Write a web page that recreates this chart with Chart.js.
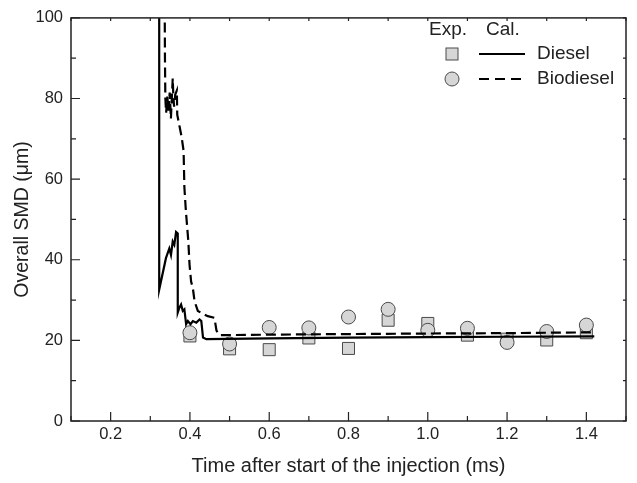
<!DOCTYPE html>
<html>
<head>
<meta charset="utf-8">
<script src="https://cdn.jsdelivr.net/npm/chart.js@4.4.0/dist/chart.umd.min.js"></script>
<style>
  html, body { margin: 0; padding: 0; background: #fff; }
  #wrap { width: 637px; height: 483px; }
</style>
</head>
<body>
<div id="wrap"><canvas id="smdChart" width="637" height="483"></canvas></div>
<script>
/* ── Data ── */
const EXP_TIME      = [0.4, 0.5, 0.6, 0.7, 0.8, 0.9, 1.0, 1.1, 1.2, 1.3, 1.4];
const EXP_DIESEL    = [21.1, 17.9, 17.7, 20.6, 18.0, 25.0, 24.2, 21.3, 20.3, 20.1, 21.9];
const EXP_BIODIESEL = [21.9, 19.1, 23.2, 23.1, 25.8, 27.7, 22.5, 23.0, 19.5, 22.2, 23.8];

const CAL_DIESEL_T = [0.3225, 0.3225, 0.3395, 0.348, 0.3522, 0.3566, 0.3606, 0.365, 0.3693, 0.3693,
                      0.3734, 0.3777, 0.382, 0.386, 0.3904, 0.3948, 0.4014, 0.4075, 0.416, 0.4243,
                      0.4287, 0.433, 0.4414, 0.6, 0.8, 1.0, 1.2, 1.42];
const CAL_DIESEL_V = [110, 32.6, 40.4, 42.8, 41.2, 44.5, 43.7, 46.9, 46.5, 26.9,
                      28.1, 28.9, 27.3, 27.7, 24.0, 24.8, 24.0, 24.8, 24.4, 25.2,
                      24.8, 20.7, 20.3, 20.5, 20.7, 20.8, 20.9, 21.0];

const CAL_BIO_T = [0.336, 0.337, 0.338, 0.340, 0.343, 0.346, 0.349, 0.352, 0.3566, 0.358,
                   0.360, 0.363, 0.367, 0.368, 0.371, 0.374, 0.379, 0.384, 0.386, 0.390,
                   0.393, 0.396, 0.399, 0.403, 0.4075, 0.4116, 0.420, 0.4287, 0.445, 0.4618,
                   0.467, 0.4745, 0.7, 1.0, 1.2, 1.42];
const CAL_BIO_V = [110, 90, 80, 76.5, 80.5, 77, 81.5, 75, 85, 81,
                   78, 81, 82, 76, 74.5, 73, 70.5, 67, 58, 51.8,
                   48.2, 44.5, 38.8, 34.6, 32.9, 29.7, 27.3, 26.8, 26.0, 25.6,
                   22.4, 21.3, 21.5, 21.7, 21.8, 22.0];

const X_TICKS = [0.2, 0.4, 0.6, 0.8, 1.0, 1.2, 1.4];
const X_MINOR = [0.1, 0.3, 0.5, 0.7, 0.9, 1.1, 1.3, 1.5];
const Y_TICKS = [0, 20, 40, 60, 80, 100];
const Y_MINOR = [10, 30, 50, 70, 90];

const FONT = "'Liberation Sans', Arial, sans-serif";
const INK = '#222';

function pts(xs, ys) {
  return xs.map((x, i) => ({ x: x, y: ys[i] }));
}

/* ── Frame + inward ticks ── */
const framePlugin = {
  id: 'frame',
  afterDatasetsDraw(chart) {
    const { ctx, chartArea: a, scales: { x, y } } = chart;
    ctx.save();
    ctx.strokeStyle = INK;
    ctx.lineWidth = 1.5;
    ctx.strokeRect(a.left, a.top, a.right - a.left, a.bottom - a.top);

    ctx.lineWidth = 1.2;
    ctx.beginPath();
    X_TICKS.forEach(v => {
      const px = x.getPixelForValue(v);
      ctx.moveTo(px, a.bottom); ctx.lineTo(px, a.bottom - 9);
      ctx.moveTo(px, a.top); ctx.lineTo(px, a.top + 3);
    });
    X_MINOR.forEach(v => {
      const px = x.getPixelForValue(v);
      ctx.moveTo(px, a.bottom); ctx.lineTo(px, a.bottom - 5);
      ctx.moveTo(px, a.top); ctx.lineTo(px, a.top + 3);
    });
    Y_TICKS.forEach(v => {
      const py = y.getPixelForValue(v);
      ctx.moveTo(a.left, py); ctx.lineTo(a.left + 9, py);
      ctx.moveTo(a.right, py); ctx.lineTo(a.right - 3, py);
    });
    Y_MINOR.forEach(v => {
      const py = y.getPixelForValue(v);
      ctx.moveTo(a.left, py); ctx.lineTo(a.left + 5, py);
      ctx.moveTo(a.right, py); ctx.lineTo(a.right - 3, py);
    });
    ctx.stroke();
    ctx.restore();
  }
};

/* ── Two-column legend (Exp. / Cal.) ── */
const legendPlugin = {
  id: 'expCalLegend',
  afterDraw(chart) {
    const ctx = chart.ctx;
    ctx.save();
    ctx.font = '19px ' + FONT;
    ctx.fillStyle = INK;
    ctx.textBaseline = 'middle';
    ctx.textAlign = 'left';
    ctx.fillText('Exp.', 429, 30);
    ctx.fillText('Cal.', 486, 30);
    ctx.fillText('Diesel', 537, 54);
    ctx.fillText('Biodiesel', 537, 79);

    ctx.fillStyle = '#d6d6d6';
    ctx.strokeStyle = '#4a4a4a';
    ctx.lineWidth = 1;
    ctx.fillRect(446, 48, 12, 12);
    ctx.strokeRect(446, 48, 12, 12);
    ctx.beginPath();
    ctx.arc(452, 79, 7, 0, Math.PI * 2);
    ctx.fill();
    ctx.stroke();

    ctx.strokeStyle = '#000';
    ctx.lineWidth = 2.2;
    ctx.beginPath();
    ctx.moveTo(479, 54); ctx.lineTo(525, 54);
    ctx.stroke();
    ctx.setLineDash([10, 6]);
    ctx.beginPath();
    ctx.moveTo(479, 79); ctx.lineTo(525, 79);
    ctx.stroke();
    ctx.restore();
  }
};

/* ── Chart ── */
new Chart(document.getElementById('smdChart'), {
  type: 'scatter',
  data: {
    datasets: [
      {
        label: 'Diesel (Cal.)',
        data: pts(CAL_DIESEL_T, CAL_DIESEL_V),
        showLine: true,
        borderColor: '#000',
        borderWidth: 2.2,
        pointRadius: 0,
        tension: 0,
        fill: false
      },
      {
        label: 'Biodiesel (Cal.)',
        data: pts(CAL_BIO_T, CAL_BIO_V),
        showLine: true,
        borderColor: '#000',
        borderWidth: 2.2,
        borderDash: [10, 5],
        pointRadius: 0,
        tension: 0,
        fill: false
      },
      {
        label: 'Biodiesel (Exp.)',
        data: pts(EXP_TIME, EXP_BIODIESEL),
        pointStyle: 'circle',
        pointRadius: 7,
        pointBackgroundColor: '#d6d6d6',
        pointBorderColor: '#4a4a4a',
        pointBorderWidth: 1
      },
      {
        label: 'Diesel (Exp.)',
        data: pts(EXP_TIME, EXP_DIESEL),
        pointStyle: 'rect',
        pointRadius: 8.5,
        pointBackgroundColor: '#d6d6d6',
        pointBorderColor: '#4a4a4a',
        pointBorderWidth: 1
      }
    ]
  },
  options: {
    responsive: false,
    animation: false,
    devicePixelRatio: 1,
    layout: { padding: { left: 0, top: 14, right: 11, bottom: 0 } },
    plugins: {
      legend: { display: false },
      tooltip: { enabled: false }
    },
    scales: {
      x: {
        type: 'linear',
        min: 0.1,
        max: 1.5,
        afterBuildTicks: s => { s.ticks = X_TICKS.map(v => ({ value: v })); },
        afterFit: s => { s.height = 62; },
        grid: { display: false, drawTicks: false },
        border: { display: false },
        ticks: {
          padding: 4,
          color: INK,
          autoSkip: false,
          maxRotation: 0,
          font: { family: FONT, size: 16.5 },
          callback: v => Number(v).toFixed(1)
        },
        title: {
          display: true,
          text: 'Time after start of the injection (ms)',
          color: INK,
          font: { family: FONT, size: 20 },
          padding: { top: 0, bottom: 5 }
        }
      },
      y: {
        type: 'linear',
        min: 0,
        max: 100,
        afterBuildTicks: s => { s.ticks = Y_TICKS.map(v => ({ value: v })); },
        afterFit: s => { s.width = 71; },
        grid: { display: false, drawTicks: false },
        border: { display: false },
        ticks: {
          padding: 8,
          color: INK,
          font: { family: FONT, size: 16.5 },
          callback: v => String(v)
        },
        title: {
          display: true,
          text: 'Overall SMD (μm)',
          color: INK,
          font: { family: FONT, size: 19.5 },
          padding: { top: 11, bottom: 0 }
        }
      }
    }
  },
  plugins: [framePlugin, legendPlugin]
});
</script>
</body>
</html>
